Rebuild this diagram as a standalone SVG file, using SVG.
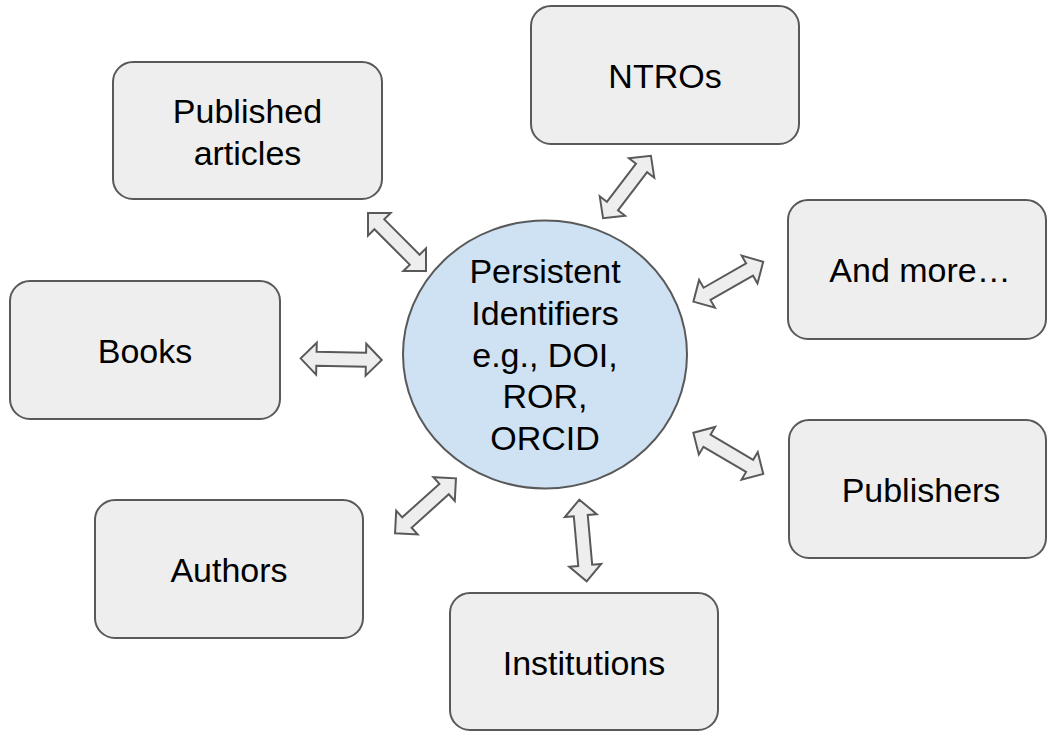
<svg xmlns="http://www.w3.org/2000/svg" width="1048" height="731" viewBox="0 0 1048 731">
<style>
.box{fill:#eeeeee;stroke:#595959;stroke-width:2}
.hub{fill:#cfe2f3;stroke:#595959;stroke-width:2}
.arr{fill:#eeeeee;stroke:#595959;stroke-width:2;stroke-linejoin:miter}
text{font-family:"Liberation Sans",Arial,sans-serif;font-size:34px;fill:#000;text-anchor:middle}
</style>
<defs>
<path id="dbl" d="M-41,0 L-25,-16 L-25,-7 L25,-7 L25,-16 L41,0 L25,16 L25,7 L-25,7 L-25,16 Z"/>
</defs>
<rect width="1048" height="731" fill="#ffffff"/>
<g id="connectors">
<use href="#dbl" class="arr" transform="translate(397,242) rotate(45)"/>
<use href="#dbl" class="arr" transform="translate(627,187) rotate(-52.6) scale(0.96,1)"/>
<use href="#dbl" class="arr" transform="translate(728.3,281.7) rotate(-29.7) scale(0.98,1)"/>
<use href="#dbl" class="arr" transform="translate(728.3,453.3) rotate(30.5) scale(0.99,1)"/>
<use href="#dbl" class="arr" transform="translate(583,540.5) rotate(84.9)"/>
<use href="#dbl" class="arr" transform="translate(425.5,505.8) rotate(-42)"/>
<use href="#dbl" class="arr" transform="translate(341.2,359.2) rotate(1.2) scale(0.99,1)"/>
</g>
<g id="hub">
<ellipse class="hub" cx="545" cy="354.5" rx="142" ry="134"/>
<text x="545" y="283">Persistent</text>
<text x="545" y="325">Identifiers</text>
<text x="545" y="367">e.g., DOI,</text>
<text x="545" y="408">ROR,</text>
<text x="545" y="450">ORCID</text>
</g>
<g id="published-articles">
<rect class="box" x="113" y="62" width="269" height="137" rx="20"/>
<text x="247.5" y="123">Published</text>
<text x="247.5" y="165">articles</text>
</g>
<g id="ntros">
<rect class="box" x="531" y="6" width="268" height="138" rx="20"/>
<text x="665" y="87.5">NTROs</text>
</g>
<g id="and-more">
<rect class="box" x="788" y="200" width="258" height="139" rx="20"/>
<text x="920" y="281.5">And more…</text>
</g>
<g id="books">
<rect class="box" x="10" y="281" width="270" height="138" rx="20"/>
<text x="145" y="362.5">Books</text>
</g>
<g id="publishers">
<rect class="box" x="789" y="420" width="257" height="138" rx="20"/>
<text x="921" y="501.5">Publishers</text>
</g>
<g id="authors">
<rect class="box" x="95" y="500" width="268" height="138" rx="20"/>
<text x="229" y="581.5">Authors</text>
</g>
<g id="institutions">
<rect class="box" x="450" y="593" width="268" height="137" rx="20"/>
<text x="584" y="674.5">Institutions</text>
</g>
</svg>
